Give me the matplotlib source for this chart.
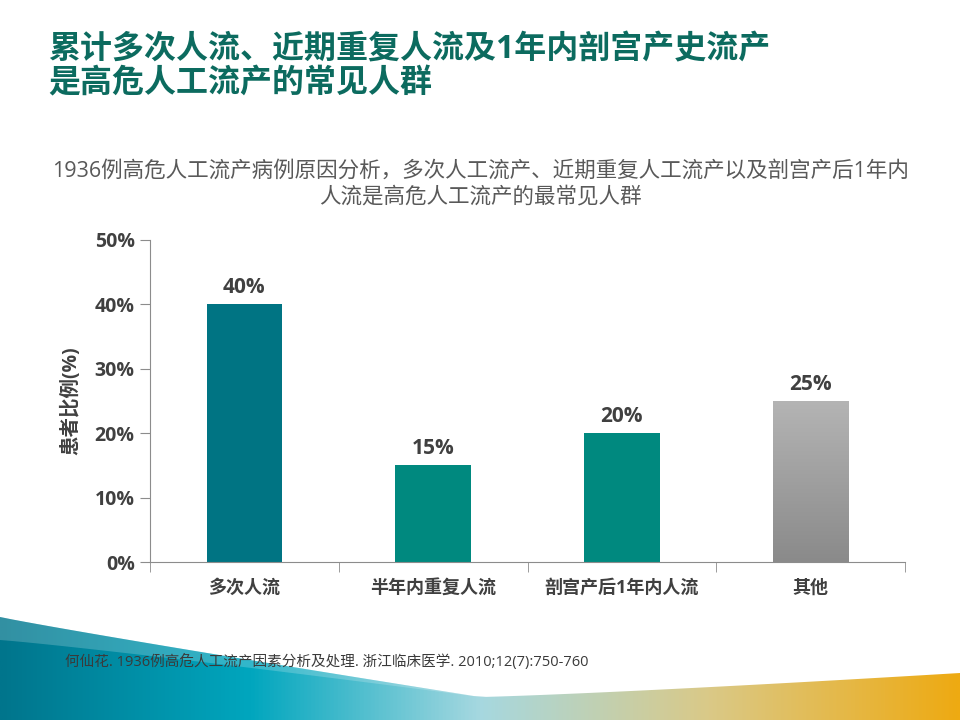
import numpy as np
import matplotlib
matplotlib.use("Agg")
import matplotlib.pyplot as plt
from matplotlib.colors import LinearSegmentedColormap
from matplotlib.patches import Polygon

plt.rcParams['font.family'] = ['Open Sans', 'Noto Sans CJK SC', 'DejaVu Sans']

# data
categories = ['多次人流', '半年内重复人流', '剖宫产后1年内人流', '其他']
values = [0.40, 0.15, 0.20, 0.25]
value_labels = ['40%', '15%', '20%', '25%']
yticks = [0, 0.1, 0.2, 0.3, 0.4, 0.5]
ytick_labels = ['0%', '10%', '20%', '30%', '40%', '50%']
bar_colors = ['#007483', '#00897F', '#00897F', '#A0A0A0']

title = '累计多次人流、近期重复人流及1年内剖宫产史流产\n是高危人工流产的常见人群'
subtitle = '1936例高危人工流产病例原因分析，多次人工流产、近期重复人工流产以及剖宫产后1年内\n人流是高危人工流产的最常见人群'
footnote = '何仙花. 1936例高危人工流产因素分析及处理. 浙江临床医学. 2010;12(7):750-760'

fig = plt.figure(figsize=(9.6, 7.2), dpi=100)

# background decoration (bottom wave)
bg = fig.add_axes([0, 0, 1, 1], zorder=0)
bg.set_xlim(0, 960)
bg.set_ylim(720, 0)
bg.axis('off')
wave_cmap = LinearSegmentedColormap.from_list('wave', [
    (0.0, '#00758C'), (0.26, '#00A6BE'), (0.5, '#A6D8E0'),
    (0.74, '#DAC987'), (1.0, '#EEAA12')])
grad = np.linspace(0, 1, 512).reshape(1, -1)
xs = np.linspace(0, 960, 80)
top_edge = np.where(xs < 480, 617 + 80 * (xs / 480) ** 0.95,
                    697 - 24 * ((xs - 480) / 480) ** 1.2)
low_edge = np.where(xs < 480, 640 + 57 * (xs / 480) ** 1.1, top_edge)
poly = Polygon(np.column_stack([np.r_[xs, 960, 0], np.r_[top_edge, 720, 720]]),
               closed=True, facecolor='none', edgecolor='none')
bg.add_patch(poly)
im = bg.imshow(grad, cmap=wave_cmap, extent=[0, 960, 720, 600], aspect='auto')
im.set_clip_path(poly)
band = Polygon(np.column_stack([np.r_[xs, xs[::-1]], np.r_[top_edge, low_edge[::-1]]]),
               closed=True, facecolor='white', edgecolor='none', alpha=0.2)
bg.add_patch(band)

fig.text(48 / 960, 1 - 67 / 720, title, fontsize=23, fontweight='bold',
         color='#0C6B5F', ha='left', va='center', linespacing=1.05)
fig.text(480 / 960, 1 - 184 / 720, subtitle, fontsize=15.5, color='#595959',
         ha='center', va='center', linespacing=1.25)
fig.text(65 / 960, 1 - 662 / 720, footnote, fontsize=10.5, color='#3A3A3A',
         ha='left', va='center')

ax = fig.add_axes([150 / 960, 1 - 562 / 720, 755 / 960, 322 / 720], zorder=2)
ax.patch.set_alpha(0)
x = np.arange(len(categories))
bars = ax.bar(x, values, width=0.4, color=bar_colors)

# gray gradient on the last bar
gb = bars[3]
gray_cmap = LinearSegmentedColormap.from_list('g', ['#8A8A8A', '#B4B4B4'])
gim = ax.imshow(np.linspace(0, 1, 256).reshape(-1, 1), cmap=gray_cmap, origin='lower',
                extent=[gb.get_x(), gb.get_x() + gb.get_width(), 0, gb.get_height()],
                aspect='auto', zorder=3)
gim.set_clip_path(gb)

for xi, v, lab in zip(x, values, value_labels):
    ax.text(xi, v + 0.01, lab, ha='center', va='bottom', fontsize=15,
            fontweight='bold', color='#404040')

ax.set_xlim(-0.5, len(categories) - 0.5)
ax.set_ylim(0, 0.5)
ax.set_yticks(yticks)
ax.set_yticklabels(ytick_labels, fontsize=14, fontweight='bold', color='#404040')
ax.set_xticks(x)
ax.set_xticklabels(categories, fontsize=13, fontweight='bold', color='#404040')
ax.set_xticks(np.arange(len(categories) + 1) - 0.5, minor=True)
ax.tick_params(axis='x', which='major', length=0, pad=12)
ax.tick_params(axis='x', which='minor', length=7, color='#8C8C8C', direction='out')
ax.tick_params(axis='y', length=7, color='#8C8C8C', direction='out', pad=4)
for s in ['top', 'right']:
    ax.spines[s].set_visible(False)
for s in ['left', 'bottom']:
    ax.spines[s].set_color('#8C8C8C')
ax.set_ylabel('患者比例(%)', fontsize=14, fontweight='bold', color='#404040', labelpad=10)

fig.savefig('out.png', dpi=100)
